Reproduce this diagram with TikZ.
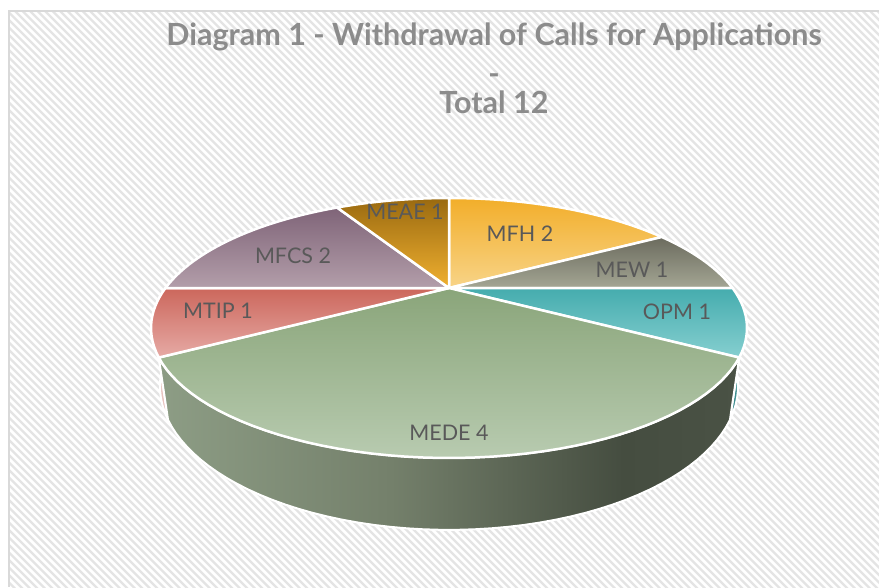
\documentclass[tikz,border=0pt]{standalone}
\usepackage{fontspec}
\setmainfont{Lato}
\definecolor{titlegray}{HTML}{8C8C8C}
\definecolor{labelgray}{HTML}{595959}
\definecolor{hatchgray}{HTML}{E4E4E4}
\definecolor{bordergray}{HTML}{D9D9D9}
\definecolor{mw1}{HTML}{8D9D85}
\definecolor{mw2}{HTML}{74806B}
\definecolor{mw3}{HTML}{454D40}
\definecolor{mw4}{HTML}{4A5245}
\definecolor{mfhA}{HTML}{F2AE2A}\definecolor{mfhB}{HTML}{F8D488}
\definecolor{mewA}{HTML}{6B6B5E}\definecolor{mewB}{HTML}{A4A694}
\definecolor{opmA}{HTML}{45ACAE}\definecolor{opmB}{HTML}{86CFD0}
\definecolor{medeA}{HTML}{8AA57A}\definecolor{medeB}{HTML}{B8CBB0}
\definecolor{mtipA}{HTML}{CC675C}\definecolor{mtipB}{HTML}{E6AAA5}
\definecolor{mfcsA}{HTML}{7F6478}\definecolor{mfcsB}{HTML}{B39EAA}
\definecolor{meaeA}{HTML}{9A6A10}\definecolor{meaeB}{HTML}{F0B030}
\definecolor{opmwall}{HTML}{3E8E90}
\definecolor{mtipwall}{HTML}{E9C4C0}
\pgfdeclarehorizontalshading{medewall}{100bp}{color(0bp)=(mw1); color(25bp)=(mw1); color(45bp)=(mw2); color(65bp)=(mw3); color(75bp)=(mw4); color(100bp)=(mw4)}
\begin{document}
\begin{tikzpicture}[x=1pt,y=-1pt,
  declare function={
    dep(\t,\z)=2.98+0.917*cos(\t)-0.399*\z;
    px(\t,\z)=449+845*sin(\t)/dep(\t,\z);
    py(\t,\z)=288-879*(0.399*cos(\t)+0.917*\z)/dep(\t,\z);
  },
  hatch/.style={draw=hatchgray,line width=2.4pt},
  border/.style={draw=bordergray,line width=1.6pt},
  slice/.style={draw=white,line width=2.5pt,line join=round},
  wall/.style={draw=white,line width=2pt,line join=round},
  lab/.style={text=labelgray,font=\fontsize{21.5}{23}\selectfont,inner sep=0pt},
  ttl/.style={text=titlegray,font=\fontsize{30.5}{33}\selectfont\bfseries,inner sep=0pt}
]
\useasboundingbox (0,0) rectangle (879,587);
\fill[white] (0,0) rectangle (879,587);
% hatched chart area
\begin{scope}
  \clip (9,11) rectangle (879,587);
  \foreach \k in {-600,-592.5,...,880} \draw[hatch] (\k,11) -- ++(600,600);
\end{scope}
\draw[border] (879,11) -- (9,11) -- (9,587);

% side walls (front half)
\path[wall,fill=opmwall] plot[domain=90:120,samples=12] ({px(\x,0)},{py(\x,0)}) -- plot[domain=120:90,samples=12] ({px(\x,-0.209)},{py(\x,-0.209)}) -- cycle;
\path[wall,fill=mtipwall] plot[domain=240:270,samples=12] ({px(\x,0)},{py(\x,0)}) -- plot[domain=270:240,samples=12] ({px(\x,-0.209)},{py(\x,-0.209)}) -- cycle;
\path[wall,shading=medewall] plot[domain=120:240,samples=50] ({px(\x,0)},{py(\x,0)}) -- plot[domain=240:120,samples=50] ({px(\x,-0.209)},{py(\x,-0.209)}) -- cycle;

% top faces
\coordinate (O) at (449,288);
\path[slice,top color=mfhA,bottom color=mfhB] (O) -- plot[domain=0:60,samples=30] ({px(\x,0)},{py(\x,0)}) -- cycle;
\path[slice,top color=mewA,bottom color=mewB] (O) -- plot[domain=60:90,samples=15] ({px(\x,0)},{py(\x,0)}) -- cycle;
\path[slice,top color=opmA,bottom color=opmB] (O) -- plot[domain=90:120,samples=15] ({px(\x,0)},{py(\x,0)}) -- cycle;
\path[slice,top color=medeA,bottom color=medeB] (O) -- plot[domain=120:240,samples=50] ({px(\x,0)},{py(\x,0)}) -- cycle;
\path[slice,top color=mtipA,bottom color=mtipB] (O) -- plot[domain=240:270,samples=15] ({px(\x,0)},{py(\x,0)}) -- cycle;
\path[slice,top color=mfcsA,bottom color=mfcsB] (O) -- plot[domain=270:330,samples=30] ({px(\x,0)},{py(\x,0)}) -- cycle;
\path[slice,top color=meaeA,bottom color=meaeB] (O) -- plot[domain=330:360,samples=15] ({px(\x,0)},{py(\x,0)}) -- cycle;

% labels
\node[lab] (meae) at (405,212) {MEAE 1};
\node[lab] (mfh)  at (520,234) {MFH 2};
\node[lab] (mfcs) at (293,256) {MFCS 2};
\node[lab] (mew)  at (632,270) {MEW 1};
\node[lab] (mtip) at (218,311) {MTIP 1};
\node[lab] (opm)  at (677,312) {OPM 1};
\node[lab] (mede) at (449,433) {MEDE 4};

% title
\node[ttl] (t1) at (494,37) {Diagram 1 - Withdrawal of Calls for Applications};
\node[ttl] (t2) at (494,79) {-};
\node[ttl] (t3) at (494,102) {Total 12};
\end{tikzpicture}
\end{document}
